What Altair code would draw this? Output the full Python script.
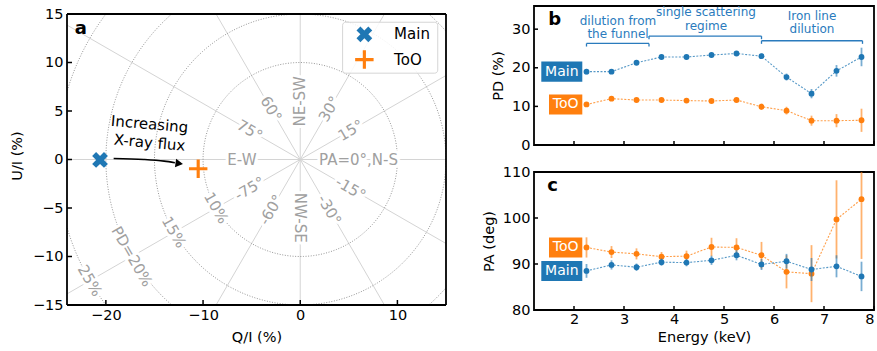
import numpy as np
import pandas as pd
import altair as alt

FONT = "DejaVu Sans"
BLUE = "#1f77b4"
ORANGE = "#ff7f0e"
GRAYTXT = "#a0a0a0"
ANN_BLUE = "#2a7bbd"

# ---------------- Panel a data ----------------
source_names = ["Main", "ToO"]
source_q = [-20.6, -10.5]
source_u = [-0.05, -0.95]

pd_levels = [10, 15, 20, 25]
pd_level_labels = ["10%", "15%", "PD=20%", "25%"]
pd_label_dir = 210
pd_label_rot = 60

pa_line_angles = [0, 15, 30, 45, 60, 75]
pa_label_texts = ["PA=0°,N-S", "15°", "30°", "NE-SW", "60°", "75°",
                  "E-W", "-75°", "-60°", "NW-SE", "-30°", "-15°"]
pa_label_dirs = [0, 30, 60, 90, 120, 150, 180, 210, 240, 270, 300, 330]
pa_label_rot = [0, 330, 300, 270, 60, 30, 0, 330, 300, 90, 60, 30]
pa_label_r = 6.0

a_xlim = [-24, 15]
a_ylim = [-15, 15]
a_xticks = [-20, -10, 0, 10]
a_yticks = [-15, -10, -5, 0, 5, 10, 15]

arrow_q = [-19.2, -16.1, -14.0, -12.9]
arrow_u = [0.1, 0.0, -0.17, -0.33]
arrow_head = (-12.45, -0.42)

# ---------------- Panels b, c data ----------------
energy = [2.25, 2.75, 3.25, 3.75, 4.25, 4.75, 5.25, 5.75, 6.25, 6.75, 7.25, 7.75]
pd_main = [19.0, 19.0, 21.3, 22.8, 22.8, 23.3, 23.7, 23.0, 17.6, 13.3, 19.2, 22.8]
pd_main_err = [0.7, 0.6, 0.6, 0.6, 0.6, 0.6, 0.6, 0.7, 0.9, 1.2, 1.5, 2.4]
pd_too = [10.5, 12.0, 11.65, 11.65, 11.5, 11.4, 11.65, 9.9, 8.9, 6.3, 6.3, 6.4]
pd_too_err = [0.5, 0.5, 0.5, 0.5, 0.5, 0.5, 0.5, 0.8, 1.0, 1.3, 1.7, 3.0]

pa_main = [88.5, 89.8, 89.3, 90.4, 90.3, 90.8, 91.9, 89.9, 90.6, 88.8, 89.5, 87.3]
pa_main_err = [1.5, 1.0, 0.8, 0.8, 0.8, 1.0, 1.1, 1.2, 1.6, 2.5, 2.4, 3.2]
pa_too = [93.6, 92.6, 92.2, 91.6, 91.7, 93.7, 93.6, 91.9, 88.3, 87.9, 99.7, 104.1]
pa_too_err = [2.2, 1.3, 1.2, 1.0, 1.2, 2.0, 2.0, 2.9, 3.6, 6.2, 8.5, 13.0]

bracket_x1 = [2.25, 3.5, 5.75]
bracket_x2 = [3.5, 5.75, 7.77]
bracket_y = [26.3, 28.2, 27.0]
bracket_line1 = ["dilution from", "single scattering", "Iron line"]
bracket_line2 = ["the funnel", "regime", "dilution"]
bracket_tx = [2.88, 4.64, 6.76]
bracket_ty1 = [31.1, 33.4, 32.5]
bracket_ty2 = [27.8, 29.9, 28.9]

e_ticks = [2, 3, 4, 5, 6, 7, 8]
pd_ticks = [0, 10, 20, 30]
pa_ticks = [80, 90, 100, 110]

# ---------------- sizes ----------------
A_W = 379
A_FRAME_H = 291
A_TOP_GAP = 8                      # blank band above panel a's frame
A_H = A_FRAME_H + A_TOP_GAP
A_YTOP = a_ylim[1] + A_TOP_GAP * (a_ylim[1] - a_ylim[0]) / A_FRAME_H
B_W, B_H = 340, 139
C_W, C_H = 340, 138

# ================= Panel a =================
xs_a = alt.Scale(domain=a_xlim, nice=False, zero=False)
ys_a = alt.Scale(domain=[a_ylim[0], A_YTOP], nice=False, zero=False)
ax_a_x = alt.Axis(values=a_xticks, title="Q/I (%)", labelPadding=3, titlePadding=9)
ax_a_y = alt.Axis(values=a_yticks, title="U/I (%)", labelPadding=4, titlePadding=8)


def AX(f, **kw):
    return alt.X(f, type="quantitative", scale=xs_a, axis=ax_a_x, **kw)


def AY(f, **kw):
    return alt.Y(f, type="quantitative", scale=ys_a, axis=ax_a_y, **kw)


R = 45.0
ang = np.deg2rad(2 * np.array(pa_line_angles, dtype=float))
rad_df = pd.DataFrame({"x": -R * np.cos(ang), "y": -R * np.sin(ang),
                       "x2": R * np.cos(ang), "y2": R * np.sin(ang)})
radial = alt.Chart(rad_df).mark_rule(color="#d4d4d4", strokeWidth=1, clip=True).encode(
    x=AX("x"), y=AY("y"), x2="x2", y2="y2")

# constant-PD circles (grid geometry)
tt = np.deg2rad(np.arange(0, 361, 2, dtype=float))
circ_rows = []
for lev in pd_levels:
    for i, t in enumerate(tt):
        circ_rows.append({"lev": lev, "i": i, "x": lev * np.cos(t), "y": lev * np.sin(t)})
circ_df = pd.DataFrame(circ_rows)
circles = alt.Chart(circ_df).mark_line(color="#8a8a8a", strokeWidth=0.9, strokeDash=[1, 1.6],
                                       clip=True).encode(
    x=AX("x"), y=AY("y"), detail="lev:N", order="i:Q")

dd = np.deg2rad(np.array(pa_label_dirs, dtype=float))
lab_df = pd.DataFrame({"x": pa_label_r * np.cos(dd), "y": pa_label_r * np.sin(dd),
                       "text": pa_label_texts, "rot": pa_label_rot})
pdir = np.deg2rad(pd_label_dir)
pct_df = pd.DataFrame({"x": np.array(pd_levels) * np.cos(pdir), "y": np.array(pd_levels) * np.sin(pdir),
                       "text": pd_level_labels, "rot": [pd_label_rot] * len(pd_levels)})
all_lab = pd.concat([lab_df, pct_df], ignore_index=True)

halo = alt.Chart(all_lab).mark_text(font=FONT, fontSize=15, color="white", stroke="white",
                                    strokeWidth=6, strokeJoin="round", clip=True).encode(
    x=AX("x"), y=AY("y"), text="text:N", angle=alt.Angle("rot:Q", scale=None))
glabels = alt.Chart(all_lab).mark_text(font=FONT, fontSize=15, color=GRAYTXT, clip=True).encode(
    x=AX("x"), y=AY("y"), text="text:N", angle=alt.Angle("rot:Q", scale=None))

# blank band above the frame, then the frame itself
mask = alt.Chart(pd.DataFrame({"x": [a_xlim[0]], "x2": [a_xlim[1]], "y": [a_ylim[1]], "y2": [A_YTOP]})).mark_rect(
    color="white", opacity=1).encode(x=AX("x"), x2="x2", y=AY("y"), y2="y2")
frame_h = alt.Chart(pd.DataFrame({"x": [a_xlim[0]] * 2, "x2": [a_xlim[1]] * 2, "y": a_ylim})).mark_rule(
    color="black", strokeWidth=1.8).encode(x=AX("x"), x2="x2", y=AY("y"))
frame_v = alt.Chart(pd.DataFrame({"x": a_xlim, "y": [a_ylim[0]] * 2, "y2": [a_ylim[1]] * 2})).mark_rule(
    color="black", strokeWidth=1.8).encode(x=AX("x"), y=AY("y"), y2="y2")

ann_df = pd.DataFrame({"x": [-15.5, -15.5], "y": [3.64, 1.73], "text": ["Increasing", "X-ray flux"]})
ann = alt.Chart(ann_df).mark_text(font=FONT, fontSize=15, color="black", angle=5).encode(
    x=AX("x"), y=AY("y"), text="text:N")

arr_df = pd.DataFrame({"x": arrow_q, "y": arrow_u, "o": list(range(len(arrow_q)))})
arrow_line = alt.Chart(arr_df).mark_line(color="black", strokeWidth=1.6, interpolate="monotone").encode(
    x=AX("x"), y=AY("y"), order="o:Q")
head_df = pd.DataFrame({"x": [arrow_head[0]], "y": [arrow_head[1]]})
arrow_tip = alt.Chart(head_df).mark_point(shape="triangle-right", filled=True, color="black",
                                          size=75, angle=8, opacity=1).encode(x=AX("x"), y=AY("y"))

X_PATH = ("M-0.333,-1L0.333,-1L0.333,-0.333L1,-0.333L1,0.333L0.333,0.333L0.333,1"
          "L-0.333,1L-0.333,0.333L-1,0.333L-1,-0.333L-0.333,-0.333Z")
P_PATH = ("M-0.17,-1L0.17,-1L0.17,-0.17L1,-0.17L1,0.17L0.17,0.17L0.17,1"
          "L-0.17,1L-0.17,0.17L-1,0.17L-1,-0.17L-0.17,-0.17Z")

main_df = pd.DataFrame({"x": [source_q[0]], "y": [source_u[0]]})
too_df = pd.DataFrame({"x": [source_q[1]], "y": [source_u[1]]})
main_pt = alt.Chart(main_df).mark_point(shape=X_PATH, angle=45, filled=True, color=BLUE, size=280,
                                        opacity=1).encode(x=AX("x"), y=AY("y"))
too_pt = alt.Chart(too_df).mark_point(shape=P_PATH, filled=True, color=ORANGE, size=340,
                                      opacity=1).encode(x=AX("x"), y=AY("y"))

leg_box_df = pd.DataFrame({"x": [4.36], "x2": [14.15], "y": [14.15], "y2": [8.9]})
leg_box = alt.Chart(leg_box_df).mark_rect(fill="white", fillOpacity=0.85, stroke="#d5d5d5",
                                          strokeWidth=1, cornerRadius=3).encode(
    x=AX("x"), x2="x2", y=AY("y"), y2="y2")
leg_main = alt.Chart(pd.DataFrame({"x": [6.6], "y": [12.9]})).mark_point(
    shape=X_PATH, angle=45, filled=True, color=BLUE, size=280, opacity=1).encode(x=AX("x"), y=AY("y"))
leg_too = alt.Chart(pd.DataFrame({"x": [6.6], "y": [10.3]})).mark_point(
    shape=P_PATH, filled=True, color=ORANGE, size=340, opacity=1).encode(x=AX("x"), y=AY("y"))
leg_txt = alt.Chart(pd.DataFrame({"x": [9.66, 9.66], "y": [12.9, 10.3], "text": source_names})).mark_text(
    font=FONT, fontSize=15, align="left", baseline="middle", color="black").encode(
    x=AX("x"), y=AY("y"), text="text:N")

letter_a = alt.Chart(pd.DataFrame({"x": [-23.2], "y": [12.9], "t": ["a"]})).mark_text(
    font=FONT, fontSize=18, fontWeight="bold", align="left", baseline="alphabetic", color="black").encode(
    x=AX("x"), y=AY("y"), text="t:N")

tick_a_x = alt.Chart(pd.DataFrame({"v": a_xticks})).mark_rule(color="black", strokeWidth=1.5).encode(
    x=AX("v"), y=alt.value(A_H), y2=alt.value(A_H - 5))
tick_a_y = alt.Chart(pd.DataFrame({"v": a_yticks})).mark_rule(color="black", strokeWidth=1.5).encode(
    y=AY("v"), x=alt.value(0), x2=alt.value(5))

panel_a = alt.layer(radial, circles, halo, glabels, mask, ann, arrow_line, arrow_tip, main_pt, too_pt,
                    leg_box, leg_main, leg_too, leg_txt, letter_a, tick_a_x, tick_a_y,
                    frame_h, frame_v).properties(
    width=A_W, height=A_H, view=alt.ViewBackground(stroke="transparent"))

# ================= Panels b, c =================
xs_e = alt.Scale(domain=[1.2, 8], nice=False, zero=False)


def make_panel(main_v, main_e, too_v, too_e, ydom, yticks, ytitle, height, box_half, letter, letter_pos,
               show_x, extra=None):
    ys = alt.Scale(domain=ydom, nice=False, zero=False)
    ax_y = alt.Axis(values=yticks, title=ytitle, labelPadding=4, titlePadding=6)
    if show_x:
        ax_x = alt.Axis(values=e_ticks, title="Energy (keV)", labelPadding=2, titlePadding=5)
    else:
        ax_x = None

    def EX(f, **kw):
        return alt.X(f, type="quantitative", scale=xs_e, axis=ax_x, **kw)

    def EY(f, **kw):
        return alt.Y(f, type="quantitative", scale=ys, axis=ax_y, **kw)

    layers = []
    if extra is not None:
        layers.extend(extra(EX, EY))
    series = [("ToO", ORANGE, too_v, too_e), ("Main", BLUE, main_v, main_e)]
    for name, col, v, e in series:
        df = pd.DataFrame({"x": energy, "v": v,
                           "lo": [a - b for a, b in zip(v, e)],
                           "hi": [min(a + b, ydom[1]) for a, b in zip(v, e)]})
        layers.append(alt.Chart(df).mark_rule(color=col, strokeWidth=1.8, opacity=0.6, clip=True).encode(
            x=EX("x"), y=EY("lo"), y2="hi"))
        layers.append(alt.Chart(df).mark_line(color=col, strokeWidth=1.1, strokeDash=[2, 1.5],
                                              opacity=0.75, clip=True).encode(x=EX("x"), y=EY("v")))
        layers.append(alt.Chart(df).mark_circle(color=col, size=34, opacity=1, clip=True).encode(
            x=EX("x"), y=EY("v")))
    # label boxes
    box_df = pd.DataFrame({"name": ["Main", "ToO"], "x": [1.346, 1.50], "x2": [2.166, 2.166],
                           "cx": [1.756, 1.832], "yc": [main_v[0], too_v[0]]})
    box_df["y"] = box_df["yc"] - box_half
    box_df["y2"] = box_df["yc"] + box_half
    layers.append(alt.Chart(box_df).mark_rect().encode(
        x=EX("x"), x2="x2", y=EY("y"), y2="y2",
        color=alt.Color("name:N", scale=alt.Scale(domain=["Main", "ToO"], range=[BLUE, ORANGE]), legend=None)))
    layers.append(alt.Chart(box_df).mark_text(font=FONT, fontSize=14, color="white", baseline="middle").encode(
        x=EX("cx"), y=EY("yc"), text="name:N"))
    layers.append(alt.Chart(pd.DataFrame({"x": [letter_pos[0]], "y": [letter_pos[1]], "t": [letter]})).mark_text(
        font=FONT, fontSize=18, fontWeight="bold", align="left", baseline="alphabetic", color="black").encode(
        x=EX("x"), y=EY("y"), text="t:N"))
    layers.append(alt.Chart(pd.DataFrame({"v": e_ticks})).mark_rule(color="black", strokeWidth=1.5).encode(
        x=EX("v"), y=alt.value(height), y2=alt.value(height - 4)))
    layers.append(alt.Chart(pd.DataFrame({"v": yticks})).mark_rule(color="black", strokeWidth=1.5).encode(
        y=EY("v"), x=alt.value(0), x2=alt.value(4)))
    return alt.layer(*layers)


def bracket_layers(EX, EY):
    hdf = pd.DataFrame({"x": bracket_x1, "x2": bracket_x2, "y": bracket_y})
    tdf = pd.DataFrame({"x": bracket_x1 + bracket_x2, "y": bracket_y + bracket_y})
    tdf["y2"] = tdf["y"] - 0.8
    txt = pd.DataFrame({"x": bracket_tx + bracket_tx, "y": bracket_ty1 + bracket_ty2,
                        "t": bracket_line1 + bracket_line2})
    return [
        alt.Chart(hdf).mark_rule(color=ANN_BLUE, strokeWidth=1.3).encode(x=EX("x"), x2="x2", y=EY("y")),
        alt.Chart(tdf).mark_rule(color=ANN_BLUE, strokeWidth=1.3).encode(x=EX("x"), y=EY("y"), y2="y2"),
        alt.Chart(txt).mark_text(font=FONT, fontSize=12, color=ANN_BLUE, baseline="alphabetic").encode(
            x=EX("x"), y=EY("y"), text="t:N"),
    ]


panel_b = make_panel(pd_main, pd_main_err, pd_too, pd_too_err, [0, 36], pd_ticks, "PD (%)", B_H, 2.6,
                     "b", (1.486, 31.1), False, extra=bracket_layers).properties(width=B_W, height=B_H)
panel_c = make_panel(pa_main, pa_main_err, pa_too, pa_too_err, [80, 110], pa_ticks, "PA (deg)", C_H, 2.17,
                     "c", (1.466, 105.9), True).properties(width=C_W, height=C_H)

right = alt.vconcat(panel_b, panel_c, spacing=10)
chart = alt.hconcat(panel_a, right, spacing=32).properties(
    padding={"left": 8, "top": 5, "right": 0, "bottom": 0}
).configure_axis(
    labelFont=FONT, titleFont=FONT, labelFontSize=14.5, titleFontSize=14.5, titleFontWeight="normal",
    labelColor="black", titleColor="black", ticks=False, domain=False, grid=False
).configure_view(stroke="black", strokeWidth=1.8)

chart.save("out.html", embed_options={"renderer": "svg", "actions": False})
